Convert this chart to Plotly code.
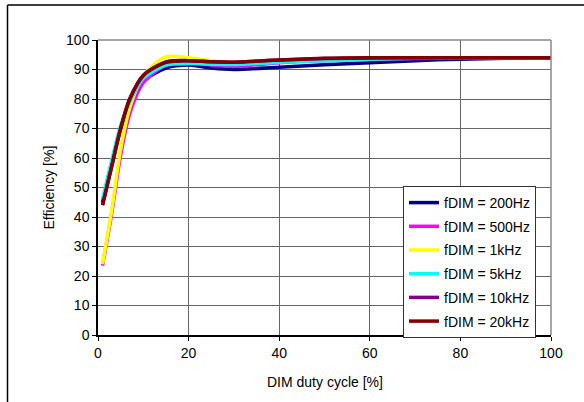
import plotly.graph_objects as go

duty = [1, 3, 5, 7, 10, 15, 20, 25, 30, 40, 50, 60, 70, 80, 90, 100]
eff_200hz = [45, 58, 70, 78, 86, 90.5, 91.5, 90.5, 90.0, 90.8, 91.6, 92.3, 93.0, 93.5, 93.8, 94]
eff_500hz = [23.5, 41, 61, 75, 85.5, 91.5, 92.5, 91.5, 91.0, 92.3, 93.0, 93.5, 93.7, 93.9, 94, 94]
eff_1khz = [24, 42, 63, 77, 88, 94.3, 94, 93, 92.3, 93.0, 93.5, 93.8, 94, 94, 94, 94]
eff_5khz = [46, 59, 71, 79, 87, 91.5, 92, 91.8, 91.7, 92.5, 93.0, 93.5, 93.8, 94, 94, 94]
eff_10khz = [44, 57, 70, 80, 88, 92.6, 93, 92.6, 92.5, 93.2, 93.7, 93.9, 94, 94, 94, 94]
eff_20khz = [44, 57, 70, 80, 88, 92.4, 93, 92.6, 92.5, 93.2, 93.8, 94, 94, 94, 94, 94]

names = ["fDIM = 200Hz", "fDIM = 500Hz", "fDIM = 1kHz", "fDIM = 5kHz", "fDIM = 10kHz", "fDIM = 20kHz"]
series = [eff_200hz, eff_500hz, eff_1khz, eff_5khz, eff_10khz, eff_20khz]
colors = ["#000080", "#FF00FF", "#FFFF00", "#00FFFF", "#800080", "#800000"]

x_ticks = [0, 20, 40, 60, 80, 100]
y_ticks = [0, 10, 20, 30, 40, 50, 60, 70, 80, 90, 100]

FONT = "Liberation Sans, Arial, sans-serif"

fig = go.Figure()
for i, (nm, ys, c) in enumerate(zip(names, series, colors)):
    fig.add_trace(go.Scatter(
        x=duty, y=ys, name=nm, mode="lines",
        line=dict(color=c, width=3.5, shape="spline", smoothing=0.8),
        legendgroup=f"g{i}",
    ))

W, H = 584, 402
L, R, T, B = 98, 33, 40, 67
pw, ph = W - L - R, H - T - B

def px_x(p):
    return (p - L) / pw

def px_y(p):
    return (H - B - p) / ph

fig.update_layout(
    width=W, height=H,
    margin=dict(l=L, r=R, t=T, b=B),
    paper_bgcolor="white", plot_bgcolor="white",
    font=dict(family=FONT, size=14, color="black"),
    showlegend=True,
    legend=dict(
        x=px_x(403), y=px_y(186), xanchor="left", yanchor="top",
        bgcolor="white", bordercolor="#333333", borderwidth=1,
        font=dict(family=FONT, size=14, color="black"),
        tracegroupgap=2.5, itemwidth=30,
    ),
    xaxis=dict(
        range=[0, 100], tickvals=x_ticks, ticktext=[str(v) for v in x_ticks],
        showgrid=True, gridcolor="#666666", gridwidth=1,
        showline=True, linecolor="black", linewidth=1.5, mirror=False,
        ticks="outside", ticklen=4, tickcolor="black",
        zeroline=False, tickfont=dict(size=14),
    ),
    yaxis=dict(
        range=[0, 100], tickvals=y_ticks, ticktext=[str(v) for v in y_ticks],
        showgrid=True, gridcolor="#666666", gridwidth=1,
        showline=True, linecolor="black", linewidth=1.5,
        ticks="outside", ticklen=4, tickcolor="black",
        zeroline=False, tickfont=dict(size=14),
    ),
    annotations=[
        dict(text="Efficiency [%]", xref="paper", yref="paper",
             x=px_x(48), y=0.5, textangle=-90, showarrow=False,
             font=dict(size=14), xanchor="center", yanchor="middle"),
        dict(text="DIM duty cycle [%]", xref="paper", yref="paper",
             x=0.5, y=px_y(382), showarrow=False,
             font=dict(size=14), xanchor="center", yanchor="middle"),
    ],
    shapes=[
        dict(type="line", xref="paper", yref="paper",
             x0=0, x1=1, y0=1, y1=1, line=dict(color="#888888", width=1.5)),
        dict(type="line", xref="paper", yref="paper",
             x0=1, x1=1, y0=0, y1=1, line=dict(color="#888888", width=1.5)),
        dict(type="line", xref="paper", yref="paper",
             x0=px_x(7.5), x1=px_x(584), y0=px_y(5), y1=px_y(5),
             line=dict(color="black", width=1.5)),
        dict(type="line", xref="paper", yref="paper",
             x0=px_x(7.5), x1=px_x(7.5), y0=px_y(5), y1=px_y(402),
             line=dict(color="black", width=1.5)),
    ],
)

fig.write_html(
    "out.html",
    config={"displayModeBar": False},
    post_script="document.body.style.margin='0';document.body.style.overflow='hidden';",
)
